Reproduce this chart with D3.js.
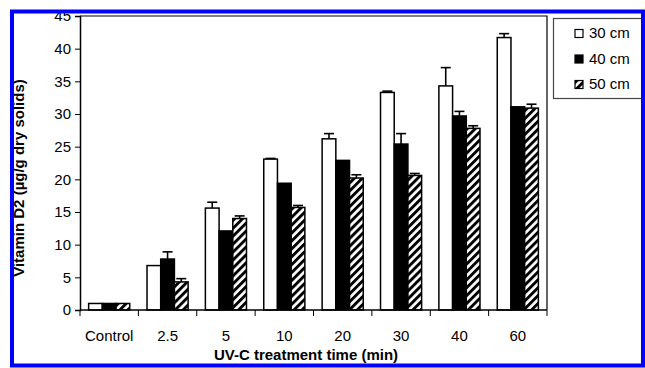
<!DOCTYPE html>
<html>
<head>
<meta charset="utf-8">
<script src="https://cdn.jsdelivr.net/npm/d3@7"></script>
<style>
  body { margin: 0; background: #fff; }
  text { font-family: "Liberation Sans", Arial, sans-serif; }
</style>
</head>
<body>
<figure id="bars" style="margin:0"></figure>
<script>
const categories = ["Control", "2.5", "5", "10", "20", "30", "40", "60"];
const seriesNames = ["30 cm", "40 cm", "50 cm"];
const cm30 = [1.0, 6.8, 15.6, 23.1, 26.2, 33.3, 34.3, 41.7];
const cm40 = [1.0, 7.8, 12.1, 19.4, 22.9, 25.4, 29.7, 31.1];
const cm50 = [1.0, 4.3, 14.0, 15.7, 20.2, 20.6, 27.8, 30.9];
const err30 = [0, 0, 0.9, 0.1, 0.8, 0.2, 2.8, 0.6];
const err40 = [0, 1.1, 0, 0, 0, 1.6, 0.7, 0];
const err50 = [0, 0.5, 0.4, 0.3, 0.5, 0.3, 0.4, 0.6];
const yTicks = [0, 5, 10, 15, 20, 25, 30, 35, 40, 45];

const width = 645;
const height = 368;
const plot = { left: 80, right: 547, top: 16, bottom: 310 };

const values = [cm30, cm40, cm50];
const errors = [err30, err40, err50];
const rows = [];
categories.forEach((c, i) => {
  seriesNames.forEach((s, j) => {
    rows.push({ cat: c, series: s, value: values[j][i], err: errors[j][i], k: j });
  });
});

const svg = d3.select("figure#bars")
  .append("svg")
  .attr("width", width)
  .attr("height", height);

svg.append("rect").attr("width", width).attr("height", height).attr("fill", "#fff");

// diagonal hatch for the 50 cm series
const pat = svg.append("defs").append("pattern")
  .attr("id", "hatch")
  .attr("patternUnits", "userSpaceOnUse")
  .attr("width", 5.6)
  .attr("height", 5.6)
  .attr("patternTransform", "rotate(45)");
pat.append("rect").attr("width", 5.6).attr("height", 5.6).attr("fill", "#fff");
pat.append("rect").attr("width", 2.9).attr("height", 5.6).attr("fill", "#000");

const fills = ["#fff", "#000", "url(#hatch)"];

const x = d3.scaleBand()
  .domain(categories)
  .range([plot.left, plot.right])
  .padding(0);

const xInner = d3.scaleBand()
  .domain(seriesNames)
  .range([0, x.bandwidth()])
  .paddingInner(0)
  .paddingOuter(0.63);

const y = d3.scaleLinear()
  .domain([0, 45])
  .range([plot.bottom, plot.top]);

// frame top and right
svg.append("path")
  .attr("d", `M${plot.left},${plot.top}H${plot.right}V${plot.bottom}`)
  .attr("fill", "none")
  .attr("stroke", "#000")
  .attr("stroke-width", 1.2);

// bars
svg.selectAll("rect.bar")
  .data(rows)
  .enter()
  .append("rect")
  .attr("class", "bar")
  .attr("x", d => x(d.cat) + xInner(d.series))
  .attr("y", d => y(d.value))
  .attr("width", xInner.bandwidth())
  .attr("height", d => y(0) - y(d.value))
  .attr("fill", d => fills[d.k])
  .attr("stroke", "#000")
  .attr("stroke-width", 1.5);

// error bars (upper only)
const eb = svg.selectAll("g.err")
  .data(rows.filter(d => d.err > 0))
  .enter()
  .append("g")
  .attr("stroke", "#000")
  .attr("stroke-width", 1.6);
eb.append("line")
  .attr("x1", d => x(d.cat) + xInner(d.series) + xInner.bandwidth() / 2)
  .attr("x2", d => x(d.cat) + xInner(d.series) + xInner.bandwidth() / 2)
  .attr("y1", d => y(d.value))
  .attr("y2", d => y(d.value + d.err));
eb.append("line")
  .attr("x1", d => x(d.cat) + xInner(d.series) + xInner.bandwidth() / 2 - 5)
  .attr("x2", d => x(d.cat) + xInner(d.series) + xInner.bandwidth() / 2 + 5)
  .attr("y1", d => y(d.value + d.err))
  .attr("y2", d => y(d.value + d.err));

// y axis
const yAxis = svg.append("g")
  .attr("transform", `translate(${plot.left},0)`)
  .call(d3.axisLeft(y).tickValues(yTicks).tickSize(5).tickPadding(4));
yAxis.select(".domain").attr("stroke-width", 1.5);
yAxis.selectAll("text").attr("font-size", 15).attr("fill", "#000")
  .style("font-family", "Liberation Sans, Arial, sans-serif");

// x axis: ticks at band boundaries, labels centred
const xAxis = svg.append("g")
  .attr("transform", `translate(0,${plot.bottom})`);
xAxis.append("line")
  .attr("x1", plot.left).attr("x2", plot.right)
  .attr("stroke", "#000").attr("stroke-width", 1.5);
xAxis.selectAll("line.tick")
  .data(categories.concat(["end"]))
  .enter()
  .append("line")
  .attr("class", "tick")
  .attr("x1", (d, i) => i < categories.length ? x(d) : plot.right)
  .attr("x2", (d, i) => i < categories.length ? x(d) : plot.right)
  .attr("y1", 0).attr("y2", 6)
  .attr("stroke", "#000").attr("stroke-width", 1);
xAxis.selectAll("text")
  .data(categories)
  .enter()
  .append("text")
  .attr("x", d => x(d) + x.bandwidth() / 2)
  .attr("y", 31)
  .attr("text-anchor", "middle")
  .attr("font-size", 15)
  .text(d => d);

// axis titles
svg.append("text")
  .attr("x", 306)
  .attr("y", 360)
  .attr("text-anchor", "middle")
  .attr("font-size", 15)
  .attr("font-weight", "bold")
  .text("UV-C treatment time (min)");

svg.append("text")
  .attr("transform", "translate(24,178) rotate(-90)")
  .attr("text-anchor", "middle")
  .attr("font-size", 15)
  .attr("font-weight", "bold")
  .text("Vitamin D2 (µg/g dry solids)");

// legend
const legend = svg.append("g");
legend.append("rect")
  .attr("x", 553.5).attr("y", 18.5)
  .attr("width", 100).attr("height", 80)
  .attr("fill", "#fff")
  .attr("stroke", "#444")
  .attr("stroke-width", 1.2);
const item = legend.selectAll("g.item")
  .data(seriesNames)
  .enter()
  .append("g")
  .attr("transform", (d, i) => `translate(575,${29.5 + i * 25.5})`);
item.append("rect")
  .attr("width", 8).attr("height", 8)
  .attr("fill", (d, i) => fills[i])
  .attr("stroke", "#000")
  .attr("stroke-width", 1.2);
item.append("text")
  .attr("x", 14)
  .attr("y", 8.5)
  .attr("font-size", 15)
  .text(d => d);

// blue frame round the figure
svg.append("rect")
  .attr("x", 12).attr("y", 11.5)
  .attr("width", 631).attr("height", 354)
  .attr("fill", "none")
  .attr("stroke", "#0000ff")
  .attr("stroke-width", 4);
</script>
</body>
</html>
